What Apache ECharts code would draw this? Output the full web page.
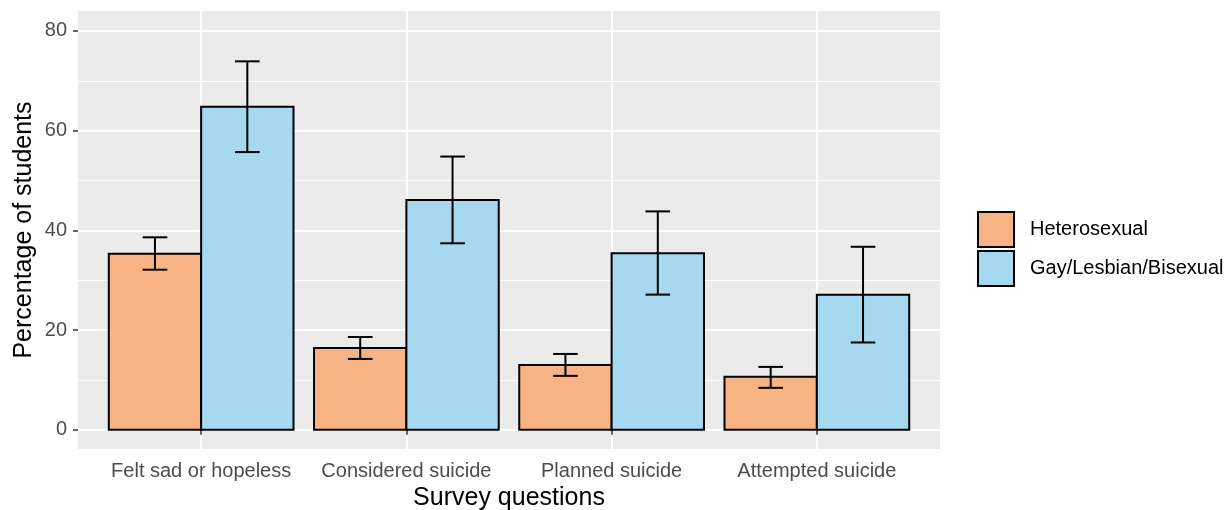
<!DOCTYPE html>
<html>
<head>
<meta charset="utf-8">
<script src="https://cdn.jsdelivr.net/npm/echarts@6/dist/echarts.min.js"></script>
<style>
  html, body { margin: 0; padding: 0; background: #fff; }
  #chart { width: 1225px; height: 510px; }
</style>
</head>
<body>
<div id="chart"></div>
<script>
// data
const categories = ["Felt sad or hopeless", "Considered suicide", "Planned suicide", "Attempted suicide"];
const hetValues = [35.3, 16.4, 13.0, 10.6];
const hetLow = [32.1, 14.2, 10.8, 8.4];
const hetHigh = [38.6, 18.6, 15.2, 12.6];
const glbValues = [64.8, 46.1, 35.4, 27.1];
const glbLow = [55.7, 37.4, 27.1, 17.5];
const glbHigh = [73.9, 54.8, 43.8, 36.7];
const yTicks = [0, 20, 40, 60, 80];
const yMinorTicks = [10, 30, 50, 70];

const FONT = "Liberation Sans";
const HET_COLOR = "#F8B384";
const GLB_COLOR = "#A6D8EF";
const BAR_W = 0.45;
const CAP = 0.06;
const xPositions = categories.map((c, i) => i + 1);

const chart = echarts.init(document.getElementById("chart"));

function barSeries(name, values, offset, color) {
  return {
    name: name,
    type: "custom",
    z: 3,
    itemStyle: { color: color, borderColor: "#000", borderWidth: 2 },
    encode: { x: 0, y: 1 },
    data: values.map((v, i) => [xPositions[i], v]),
    renderItem: (params, api) => {
      const x = api.value(0) + offset;
      const p0 = api.coord([x - BAR_W / 2, 0]);
      const p1 = api.coord([x + BAR_W / 2, api.value(1)]);
      return {
        type: "rect",
        shape: { x: p0[0], y: p1[1], width: p1[0] - p0[0], height: p0[1] - p1[1] },
        style: { fill: color, stroke: "#000", lineWidth: 2 },
      };
    },
  };
}

function errorSeries(name, low, high, offset) {
  return {
    name: name,
    type: "custom",
    z: 4,
    encode: { x: 0, y: [1, 2] },
    data: low.map((v, i) => [xPositions[i], v, high[i]]),
    renderItem: (params, api) => {
      const x = api.value(0) + offset;
      const lo = api.coord([x, api.value(1)]);
      const hi = api.coord([x, api.value(2)]);
      const l = api.coord([x - CAP, 0])[0];
      const r = api.coord([x + CAP, 0])[0];
      const style = { stroke: "#000", lineWidth: 2 };
      return {
        type: "group",
        children: [
          { type: "line", shape: { x1: lo[0], y1: lo[1], x2: hi[0], y2: hi[1] }, style: style },
          { type: "line", shape: { x1: l, y1: lo[1], x2: r, y2: lo[1] }, style: style },
          { type: "line", shape: { x1: l, y1: hi[1], x2: r, y2: hi[1] }, style: style },
        ],
      };
    },
  };
}

const Y_MIN = -3.87;
const Y_MAX = 84;

chart.setOption({
  animation: false,
  textStyle: { fontFamily: FONT },
  grid: {
    left: 78,
    right: 285,
    top: 11,
    bottom: 61,
    show: true,
    backgroundColor: "#EBEBEB",
    borderWidth: 0,
    outerBoundsMode: "none",
  },
  legend: {
    orient: "vertical",
    left: 972,
    top: 206,
    itemWidth: 36,
    itemHeight: 35,
    itemGap: 2,
    icon: "rect",
    textStyle: { fontSize: 20, color: "#000", fontFamily: FONT, padding: [0, 0, 0, 11] },
    data: [
      { name: "Heterosexual", itemStyle: { color: HET_COLOR, borderColor: "#000", borderWidth: 2 } },
      { name: "Gay/Lesbian/Bisexual", itemStyle: { color: GLB_COLOR, borderColor: "#000", borderWidth: 2 } },
    ],
  },
  xAxis: {
    type: "value",
    min: 0.4,
    max: 4.6,
    name: "Survey questions",
    nameLocation: "middle",
    nameGap: 37,
    nameTextStyle: { fontSize: 25, color: "#000", fontFamily: FONT },
    axisLine: { show: false },
    axisTick: { customValues: xPositions, length: 5, lineStyle: { color: "#333", width: 1.5 } },
    axisLabel: {
      customValues: xPositions,
      formatter: (v) => categories[Math.round(v) - 1],
      fontSize: 20,
      color: "#4D4D4D",
      margin: 12,
      fontFamily: FONT,
    },
    splitLine: { show: true, lineStyle: { color: "#fff", width: 2 } },
  },
  yAxis: [
    {
      type: "value",
      min: Y_MIN,
      max: Y_MAX,
      name: "Percentage of students",
      nameLocation: "middle",
      nameGap: 41,
      nameMoveOverlap: false,
      nameTextStyle: { fontSize: 25, color: "#000", fontFamily: FONT },
      axisLine: { show: false },
      axisTick: { show: true, customValues: yTicks, length: 5, lineStyle: { color: "#333", width: 1.5 } },
      axisLabel: { customValues: yTicks, fontSize: 20, color: "#4D4D4D", margin: 11, fontFamily: FONT },
      splitLine: { show: true, lineStyle: { color: "#fff", width: 2 } },
    },
    {
      type: "value",
      min: Y_MIN,
      max: Y_MAX,
      position: "left",
      axisLine: { show: false },
      axisTick: { show: false, customValues: yMinorTicks },
      axisLabel: { show: false, customValues: yMinorTicks },
      splitLine: { show: true, lineStyle: { color: "#fff", width: 1 } },
    },
  ],
  series: [
    barSeries("Heterosexual", hetValues, -0.225, HET_COLOR),
    barSeries("Gay/Lesbian/Bisexual", glbValues, 0.225, GLB_COLOR),
    errorSeries("het-err", hetLow, hetHigh, -0.225),
    errorSeries("glb-err", glbLow, glbHigh, 0.225),
  ],
});
</script>
</body>
</html>
